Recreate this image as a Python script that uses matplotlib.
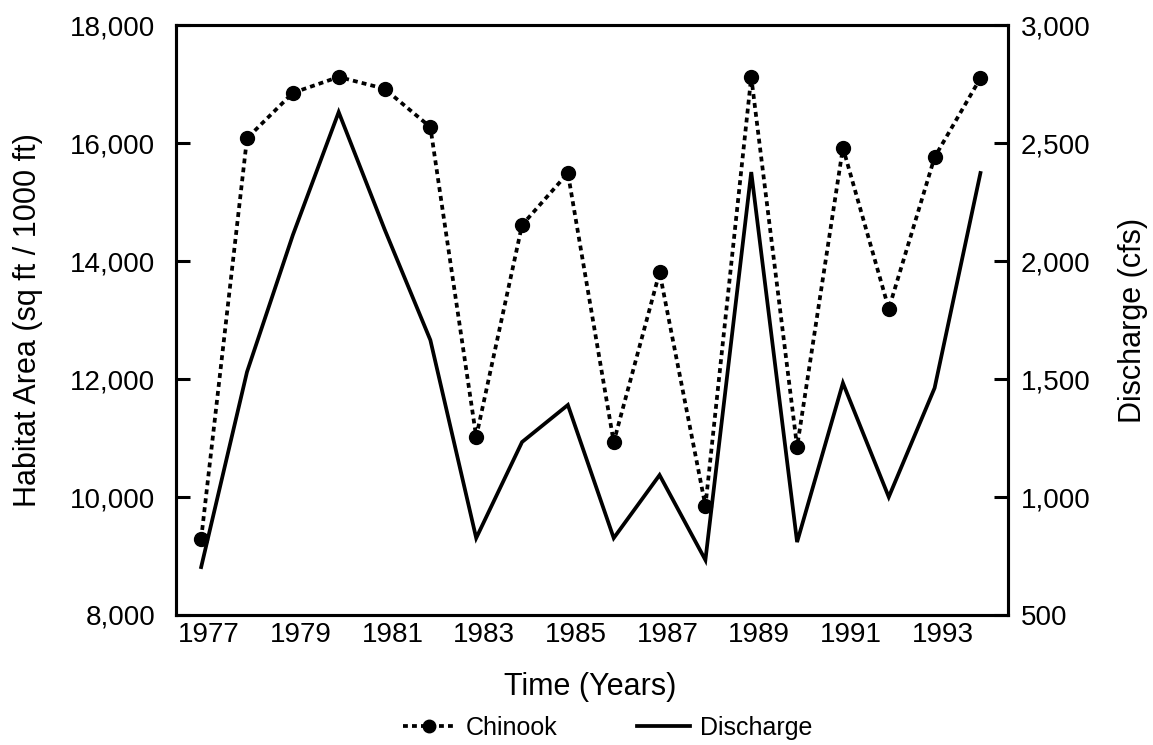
import matplotlib
matplotlib.use("Agg")
import matplotlib.pyplot as plt
import matplotlib.transforms as mtransforms
from matplotlib.ticker import FuncFormatter

plt.rcParams['font.family'] = ['Liberation Sans', 'DejaVu Sans']

years = list(range(1977, 1995))
chinook = [9290, 16080, 16850, 17120, 16920, 16270, 11020, 14610, 15490,
           10930, 13810, 9850, 17120, 10850, 15920, 13190, 15760, 17100]
discharge = [703, 1530, 2110, 2631, 2135, 1665, 826, 1233, 1390,
             826, 1093, 733, 2377, 809, 1483, 1000, 1462, 2373]
xtick_years = list(range(1977, 1994, 2))
left_ticks = [8000, 10000, 12000, 14000, 16000, 18000]
right_ticks = [500, 1000, 1500, 2000, 2500, 3000]

fig = plt.figure(figsize=(11.53, 7.45), dpi=100)
ax = fig.add_axes([0.1526, 0.1745, 0.7216, 0.7919])
ax2 = ax.twinx()

l1, = ax.plot(years, chinook, color='black', lw=2.7, linestyle=(0, (1.3, 1.1)),
              marker='o', markersize=10, markerfacecolor='black',
              markeredgecolor='black', label='Chinook', zorder=3)
l2, = ax2.plot(years, discharge, color='black', lw=2.7, solid_joinstyle='miter',
               label='Discharge')

ax.set_xlim(1976.45, 1994.6)
ax.set_ylim(8000, 18000)
ax2.set_ylim(500, 3000)
ax.set_yticks(left_ticks)
ax2.set_yticks(right_ticks)
fmt = FuncFormatter(lambda v, p: f"{int(v):,}")
ax.yaxis.set_major_formatter(fmt)
ax2.yaxis.set_major_formatter(fmt)
ax.set_xticks(xtick_years)
ax.tick_params(axis='x', length=0, labelsize=20, pad=5)
ax.tick_params(axis='y', direction='in', length=10, width=2.2, labelsize=20, pad=15)
ax2.tick_params(axis='y', direction='in', length=10, width=2.2, labelsize=20, pad=9)

offset = mtransforms.ScaledTranslation(0.08, 0, fig.dpi_scale_trans)
for lab in ax.get_xticklabels():
    lab.set_transform(lab.get_transform() + offset)

for a in (ax, ax2):
    for s in a.spines.values():
        s.set_linewidth(2.2)
        s.set_color('black')

ax.set_xlabel('Time (Years)', fontsize=22)
ax.set_ylabel('Habitat Area (sq ft / 1000 ft)', fontsize=22)
ax2.set_ylabel('Discharge (cfs)', fontsize=22)
ax.xaxis.set_label_coords(0.498, -0.122)
ax.xaxis.label.set_va('center')
ax.yaxis.set_label_coords(-0.178, 0.5)
ax.yaxis.label.set_va('center')
ax2.yaxis.set_label_coords(1.150, 0.5)
ax2.yaxis.label.set_va('center')

fig.legend(handles=[l1, l2], loc='center', bbox_to_anchor=(0.527, 0.023),
           ncol=2, frameon=False, fontsize=18, handlelength=2.1,
           columnspacing=3.2, handletextpad=0.4, markerscale=0.9)

fig.savefig('out.png', dpi=100)
